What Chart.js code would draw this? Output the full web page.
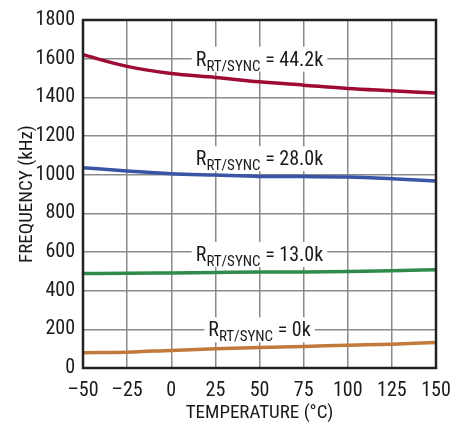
<!DOCTYPE html>
<html>
<head>
<meta charset="utf-8">
<script src="https://cdn.jsdelivr.net/npm/chart.js@4/dist/chart.umd.min.js"></script>
<style>
  html, body { margin: 0; padding: 0; background: #fff; }
  #wrap { width: 471px; height: 425px; position: relative; }
</style>
</head>
<body>
<div id="wrap"><canvas id="chart"></canvas></div>
<script>
const temps = [-50, -25, 0, 25, 50, 75, 100, 125, 150];
const freq442 = [1620, 1560, 1523, 1503, 1480, 1463, 1446, 1434, 1422];
const freq280 = [1036, 1019, 1005, 998, 991, 990, 988, 979, 967];
const freq130 = [489, 490, 492, 494, 496, 497, 499, 503, 508];
const freq0 = [79, 82, 91, 99, 106, 111, 118, 123, 132];

const labelNames = ["44.2k", "28.0k", "13.0k", "0k"];
const labelX = [50, 50, 50, 50];
const labelY = [1600, 1085, 590, 200];

// Roboto with condensed stretch, close to the narrow face of the original
const FAMILY = "Roboto, 'DejaVu Sans', sans-serif";
const STRETCH = "condensed";
const INK = "#1a1a1a";

function toPoints(values) {
  return values.map((v, i) => ({ x: temps[i], y: v }));
}

const curveLabels = {
  id: "curveLabels",
  afterDatasetsDraw(chart) {
    const ctx = chart.ctx;
    const xs = chart.scales.x;
    const ys = chart.scales.y;
    ctx.save();
    labelNames.forEach((name, i) => {
      const cx = xs.getPixelForValue(labelX[i]);
      const cy = ys.getPixelForValue(labelY[i]);
      const main = STRETCH + " 20px " + FAMILY;
      const sub = STRETCH + " 15px " + FAMILY;
      const tail = " = " + name;
      ctx.font = main;
      const wR = ctx.measureText("R").width;
      const wT = ctx.measureText(tail).width;
      ctx.font = sub;
      const wS = ctx.measureText("RT/SYNC").width;
      const total = wR + wS + wT;
      let x = cx - total / 2;
      ctx.fillStyle = "#fff";
      ctx.fillRect(x - 4, cy - 12, total + 8, 25);
      ctx.fillStyle = INK;
      ctx.textBaseline = "alphabetic";
      ctx.font = main;
      ctx.fillText("R", x, cy + 7);
      x += wR;
      ctx.font = sub;
      ctx.fillText("RT/SYNC", x, cy + 12);
      x += wS;
      ctx.font = main;
      ctx.fillText(tail, x, cy + 7);
    });
    ctx.restore();
  }
};

const frame = {
  id: "frame",
  afterDraw(chart) {
    const a = chart.chartArea;
    const ctx = chart.ctx;
    ctx.save();
    ctx.strokeStyle = "#222";
    ctx.lineWidth = 2.5;
    ctx.strokeRect(a.left, a.top, a.right - a.left, a.bottom - a.top);
    ctx.restore();
  }
};

new Chart(document.getElementById("chart"), {
  type: "line",
  data: {
    datasets: [
      { data: toPoints(freq442), borderColor: "#9e0b35" },
      { data: toPoints(freq280), borderColor: "#3a54a6" },
      { data: toPoints(freq130), borderColor: "#2f8a4c" },
      { data: toPoints(freq0), borderColor: "#c27a3c" }
    ]
  },
  options: {
    responsive: true,
    maintainAspectRatio: false,
    animation: false,
    layout: { padding: { top: 17, right: 35, left: 0, bottom: 0 } },
    elements: {
      line: { borderWidth: 3.5, tension: 0.4, cubicInterpolationMode: "monotone" },
      point: { radius: 0 }
    },
    plugins: { legend: { display: false }, tooltip: { enabled: false } },
    scales: {
      x: {
        type: "linear",
        min: -50,
        max: 150,
        afterFit: (s) => { s.height = 57; },
        grid: { color: "#8a8a8a", lineWidth: 1.5, drawTicks: false },
        border: { display: false },
        ticks: {
          stepSize: 25,
          padding: 11,
          color: INK,
          font: { family: FAMILY, weight: STRETCH, size: 20 },
          callback: (v) => (v < 0 ? "\u2013" + Math.abs(v) : String(v))
        },
        title: {
          display: true,
          text: "TEMPERATURE (\u00b0C)",
          color: INK,
          font: { family: FAMILY, weight: STRETCH, size: 19 },
          padding: { top: 2, bottom: 0 }
        }
      },
      y: {
        min: 0,
        max: 1800,
        afterFit: (s) => { s.width = 83; },
        grid: { color: "#8a8a8a", lineWidth: 1.5, drawTicks: false },
        border: { display: false },
        ticks: {
          stepSize: 200,
          padding: 8,
          color: INK,
          font: { family: FAMILY, weight: STRETCH, size: 20 },
          callback: (v) => String(v)
        },
        title: {
          display: true,
          text: "FREQUENCY (kHz)",
          color: INK,
          font: { family: FAMILY, weight: STRETCH, size: 19 },
          padding: { top: 16, bottom: 0 }
        }
      }
    }
  },
  plugins: [curveLabels, frame]
});
</script>
</body>
</html>
